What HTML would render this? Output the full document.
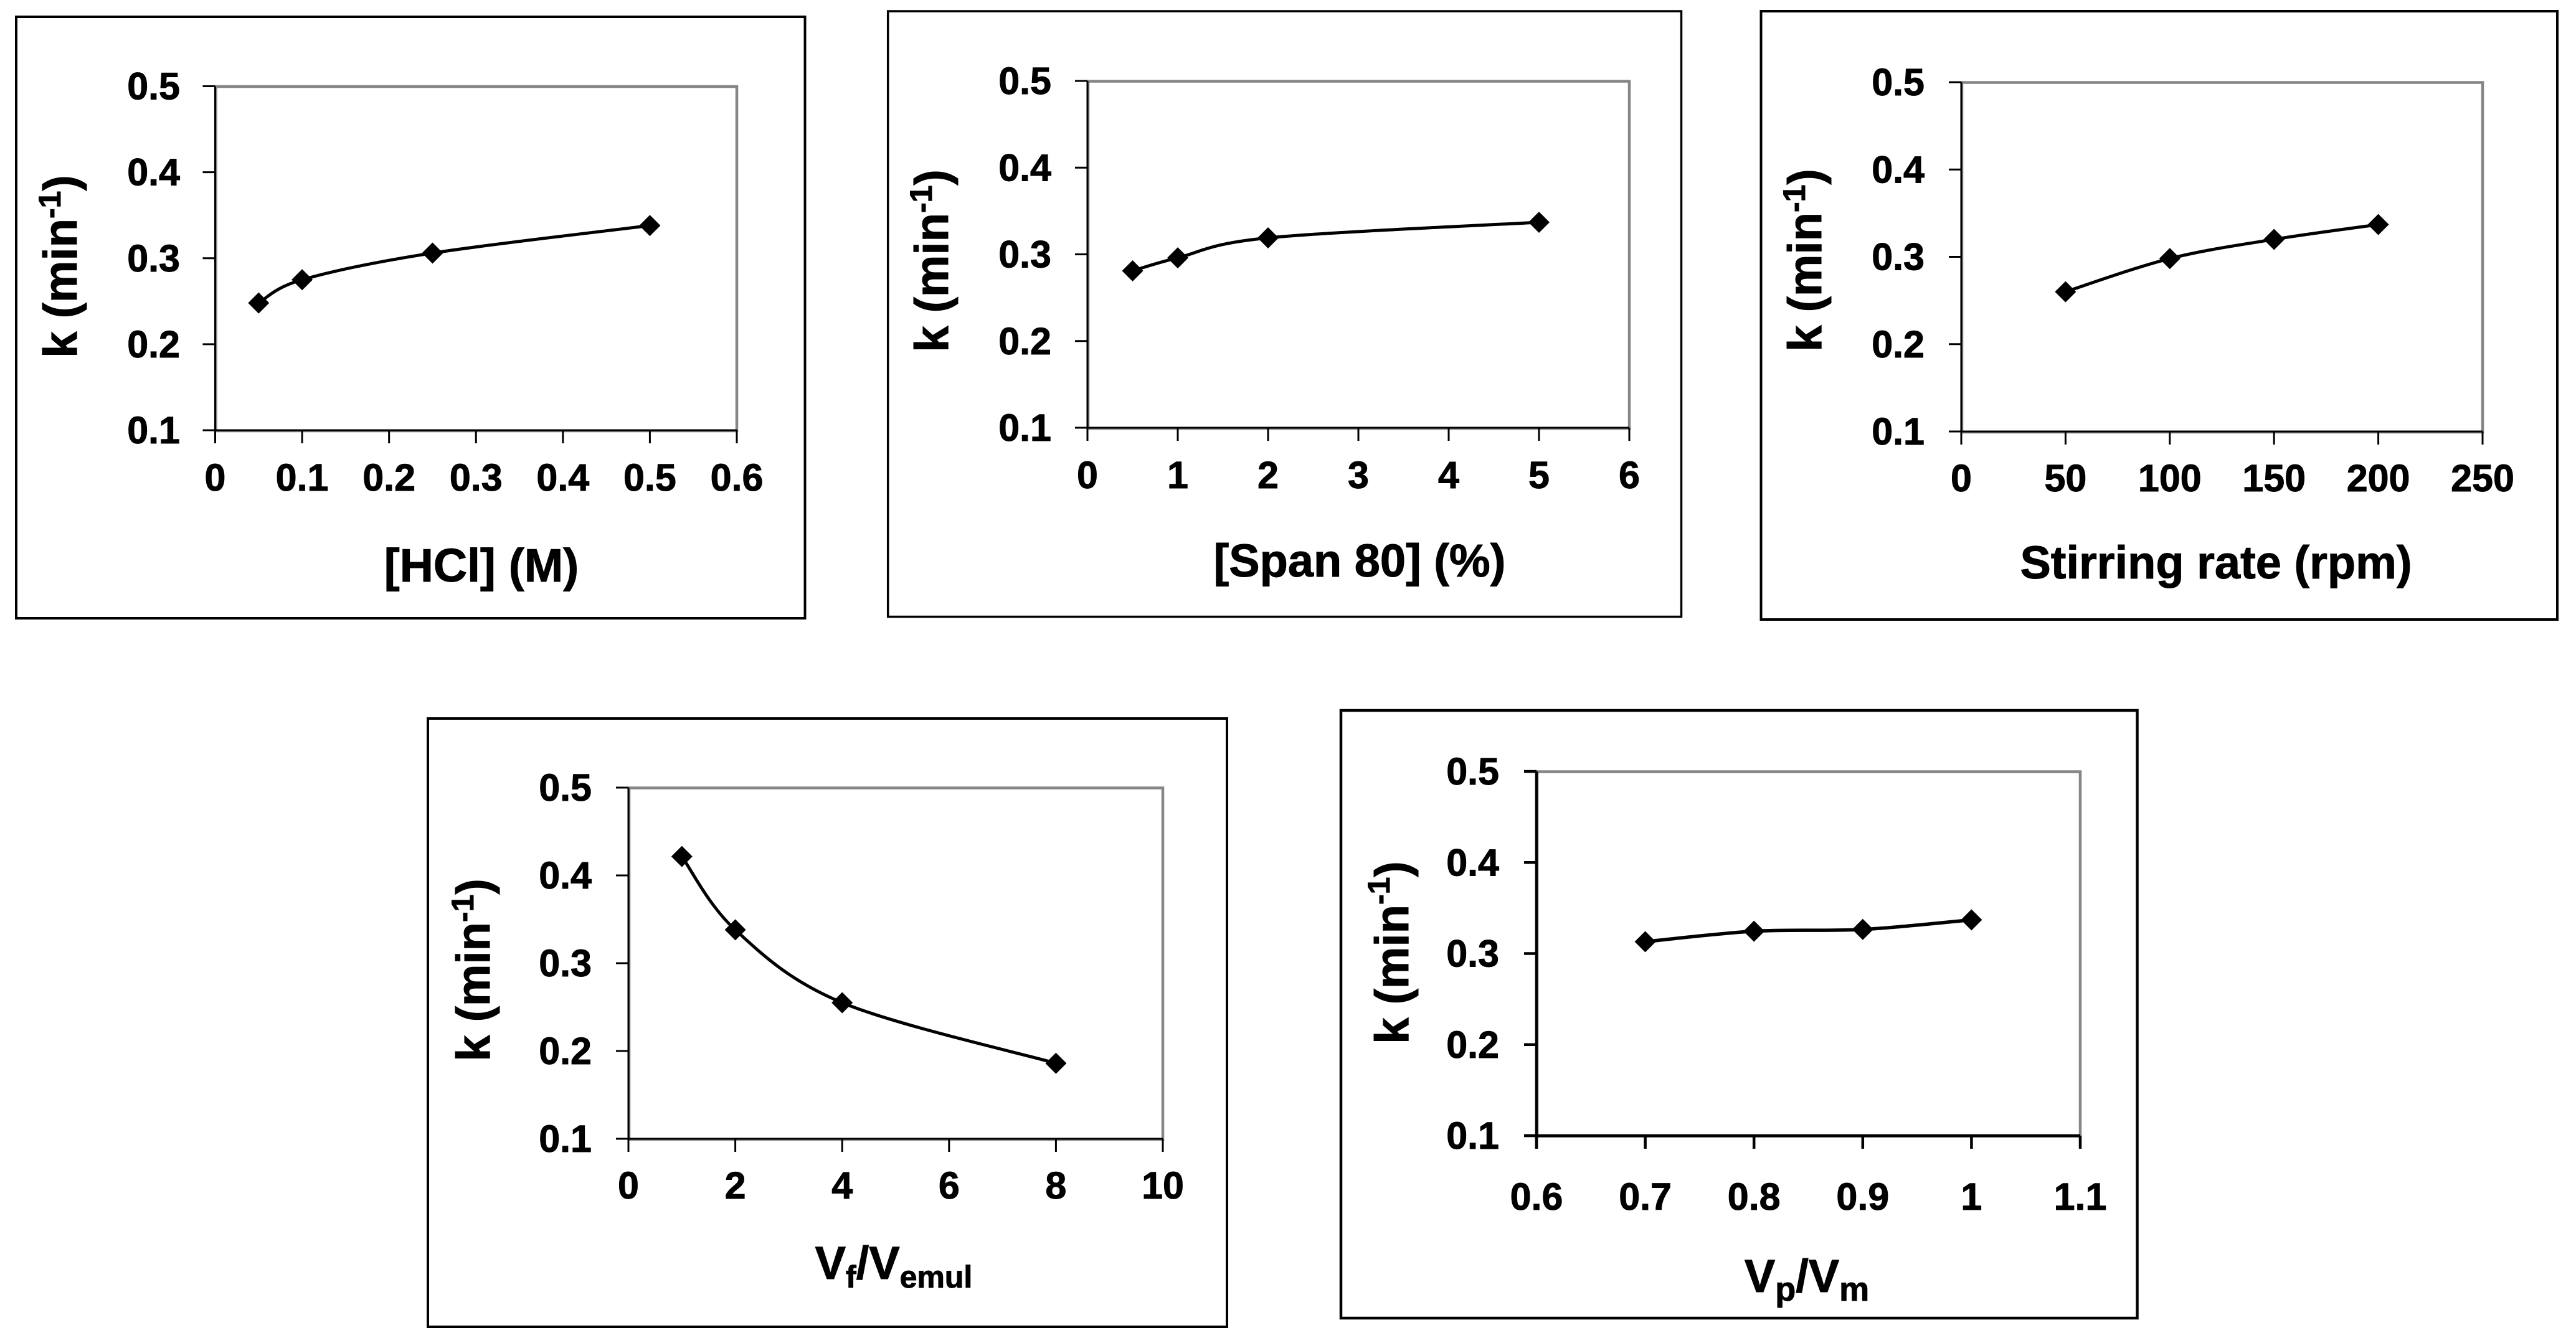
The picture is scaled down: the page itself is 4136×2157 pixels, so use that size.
<!DOCTYPE html>
<html lang="en">
<head>
<meta charset="utf-8">
<title>Rate constant k versus process variables</title>
<style>
  html, body { margin: 0; padding: 0; background: #ffffff; }
  svg { display: block; }
  text { font-family: "Liberation Sans", Arial, sans-serif; font-weight: 700; fill: #000; stroke: #000; stroke-width: 1; }
  .tick { font-size: 61px; }
  .title { font-size: 74px; }
  .ytitle { font-size: 76px; }
</style>
</head>
<body>
<svg id="figure" xmlns="http://www.w3.org/2000/svg" width="4136" height="2157" viewBox="0 0 4136 2157">
  <rect x="0" y="0" width="4136" height="2157" fill="#ffffff"/>

  <g id="panel-hcl">
    <rect x="26" y="27" width="1266.5" height="966" fill="#fff" stroke="#000" stroke-width="4"/>
    <text class="title" x="773" y="934" text-anchor="middle" style="font-size:75px">[HCl] (M)</text>
    <text class="ytitle" text-anchor="middle" transform="translate(123 428) rotate(-90)">k  (min<tspan font-size="50" dy="-26">-1</tspan><tspan dy="26">)</tspan></text>
  </g>

  <g id="panel-span">
    <rect x="1425.7" y="18" width="1273.8" height="972.5" fill="#fff" stroke="#000" stroke-width="3.5"/>
    <text class="title" x="2183" y="926" text-anchor="middle">[Span 80] (%)</text>
    <text class="ytitle" text-anchor="middle" transform="translate(1522 419) rotate(-90)">k (min<tspan font-size="50" dy="-26">-1</tspan><tspan dy="26">)</tspan></text>
  </g>

  <g id="panel-stir">
    <rect x="2827.5" y="18" width="1278.5" height="977" fill="#fff" stroke="#000" stroke-width="4"/>
    <text class="title" x="3558" y="929" text-anchor="middle">Stirring rate (rpm)</text>
    <text class="ytitle" text-anchor="middle" transform="translate(2924 418) rotate(-90)">k (min<tspan font-size="50" dy="-26">-1</tspan><tspan dy="26">)</tspan></text>
  </g>

  <g id="panel-vf">
    <rect x="687" y="1154" width="1283" height="977" fill="#fff" stroke="#000" stroke-width="4"/>
    <text class="title" x="1435" y="2054" text-anchor="middle">V<tspan font-size="50" dy="14">f</tspan><tspan dy="-14">/V</tspan><tspan font-size="50" dy="14">emul</tspan></text>
    <text class="ytitle" text-anchor="middle" transform="translate(786 1558) rotate(-90)">k  (min<tspan font-size="50" dy="-26">-1</tspan><tspan dy="26">)</tspan></text>
  </g>

  <g id="panel-vp">
    <rect x="2153" y="1141" width="1278.5" height="976" fill="#fff" stroke="#000" stroke-width="4.5"/>
    <text class="title" x="2901" y="2075" text-anchor="middle">V<tspan font-size="54" dy="14">p</tspan><tspan dy="-14">/V</tspan><tspan font-size="54" dy="14">m</tspan></text>
    <text class="ytitle" text-anchor="middle" transform="translate(2261 1530) rotate(-90)">k  (min<tspan font-size="50" dy="-30">-1</tspan><tspan dy="30">)</tspan></text>
  </g>
</svg>

<script>
// Shared y axis
const kTicks = [0.1, 0.2, 0.3, 0.4, 0.5];
const kTickLabels = ['0.1', '0.2', '0.3', '0.4', '0.5'];

// [HCl] panel
const hclValues = [0.05, 0.1, 0.25, 0.5];
const hclK = [0.248, 0.275, 0.306, 0.338];
const hclTicks = [0, 0.1, 0.2, 0.3, 0.4, 0.5, 0.6];
const hclTickLabels = ['0', '0.1', '0.2', '0.3', '0.4', '0.5', '0.6'];

// [Span 80] panel
const spanValues = [0.5, 1, 2, 5];
const spanK = [0.281, 0.296, 0.319, 0.337];
const spanTicks = [0, 1, 2, 3, 4, 5, 6];
const spanTickLabels = ['0', '1', '2', '3', '4', '5', '6'];

// Stirring rate panel
const stirValues = [50, 100, 150, 200];
const stirK = [0.26, 0.298, 0.32, 0.337];
const stirTicks = [0, 50, 100, 150, 200, 250];
const stirTickLabels = ['0', '50', '100', '150', '200', '250'];

// Vf/Vemul panel
const feedValues = [1, 2, 4, 8];
const feedK = [0.4215, 0.338, 0.255, 0.186];
const feedTicks = [0, 2, 4, 6, 8, 10];
const feedTickLabels = ['0', '2', '4', '6', '8', '10'];

// Vp/Vm panel
const phaseValues = [0.7, 0.8, 0.9, 1];
const phaseK = [0.313, 0.3245, 0.3265, 0.337];
const phaseTicks = [0.6, 0.7, 0.8, 0.9, 1, 1.1];
const phaseTickLabels = ['0.6', '0.7', '0.8', '0.9', '1', '1.1'];

const SVG_NS = 'http://www.w3.org/2000/svg';

function mk(tag, attrs, parent) {
  const el = document.createElementNS(SVG_NS, tag);
  Object.keys(attrs).forEach(function (k) { el.setAttribute(k, attrs[k]); });
  parent.appendChild(el);
  return el;
}

function smoothPath(pts) {
  let d = 'M' + pts[0].x + ' ' + pts[0].y;
  for (let i = 0; i < pts.length - 1; i++) {
    const p0 = pts[Math.max(i - 1, 0)];
    const p1 = pts[i];
    const p2 = pts[i + 1];
    const p3 = pts[Math.min(i + 2, pts.length - 1)];
    const c1x = p1.x + (p2.x - p0.x) / 6;
    const c1y = p1.y + (p2.y - p0.y) / 6;
    const c2x = p2.x - (p3.x - p1.x) / 6;
    const c2y = p2.y - (p3.y - p1.y) / 6;
    d += ' C' + c1x + ' ' + c1y + ' ' + c2x + ' ' + c2y + ' ' + p2.x + ' ' + p2.y;
  }
  return d;
}

function drawPanel(cfg) {
  const g = document.getElementById(cfg.id);
  const w = cfg.axisWidth;
  const xMin = cfg.xTicks[0];
  const xMax = cfg.xTicks[cfg.xTicks.length - 1];
  const yMin = kTicks[0];
  const yMax = kTicks[kTicks.length - 1];
  const xScale = function (v) { return cfg.left + (v - xMin) / (xMax - xMin) * (cfg.right - cfg.left); };
  const yScale = function (v) { return cfg.bottom - (v - yMin) / (yMax - yMin) * (cfg.bottom - cfg.top); };

  const frame = mk('rect', {
    x: cfg.left + 1,
    y: cfg.top + 0.5,
    width: cfg.right - cfg.left - 1,
    height: cfg.bottom - cfg.top + 0.5,
    fill: 'none', stroke: '#868686', 'stroke-width': 4.5
  }, g);
  
  

  const yAxis = mk('line', { x1: cfg.left, x2: cfg.left, y1: cfg.top, y2: cfg.bottom + 21, stroke: '#000', 'stroke-width': w }, g);
  
  

  const xAxis = mk('line', { x1: cfg.left - 20, x2: cfg.right, y1: cfg.bottom, y2: cfg.bottom, stroke: '#000', 'stroke-width': w }, g);
  
  

  kTicks.forEach(function (v, i) {
    const y = yScale(v);
    const tick = mk('line', { x1: cfg.left - 20, x2: cfg.left, y1: y, y2: y, stroke: '#000', 'stroke-width': w }, g);
    
    
    const label = mk('text', { class: 'tick', x: cfg.yLabelRight, y: y + 21, 'text-anchor': 'end' }, g);
    
    
    label.textContent = kTickLabels[i];
  });

  cfg.xTicks.forEach(function (v, i) {
    const x = xScale(v);
    const tick = mk('line', { x1: x, x2: x, y1: cfg.bottom, y2: cfg.bottom + 21, stroke: '#000', 'stroke-width': w }, g);
    
    
    const label = mk('text', { class: 'tick', x: x, y: cfg.xLabelBase, 'text-anchor': 'middle' }, g);
    
    
    label.textContent = cfg.xLabels[i];
  });

  const pts = cfg.xs.map(function (v, i) { return { x: xScale(v), y: yScale(cfg.ys[i]) }; });

  const line = mk('path', { d: smoothPath(pts), fill: 'none', stroke: '#000', 'stroke-width': cfg.lineWidth }, g);
  
  

  pts.forEach(function (p) {
    const r = 17;
    const marker = mk('polygon', {
      points: p.x + ',' + (p.y - r) + ' ' + (p.x + r) + ',' + p.y + ' ' + p.x + ',' + (p.y + r) + ' ' + (p.x - r) + ',' + p.y,
      fill: '#000'
    }, g);
    
    
  });
}

drawPanel({ id: 'panel-hcl', name: 'hcl', xs: hclValues, ys: hclK, xTicks: hclTicks, xLabels: hclTickLabels,
  left: 345.5, right: 1183, top: 138.5, bottom: 691, yLabelRight: 289, xLabelBase: 788, axisWidth: 3, lineWidth: 5 });
drawPanel({ id: 'panel-span', name: 'span', xs: spanValues, ys: spanK, xTicks: spanTicks, xLabels: spanTickLabels,
  left: 1746, right: 2616, top: 130, bottom: 687, yLabelRight: 1688, xLabelBase: 784, axisWidth: 3, lineWidth: 5 });
drawPanel({ id: 'panel-stir', name: 'stirring', xs: stirValues, ys: stirK, xTicks: stirTicks, xLabels: stirTickLabels,
  left: 3149, right: 3986, top: 132, bottom: 693, yLabelRight: 3090, xLabelBase: 789, axisWidth: 3, lineWidth: 5 });
drawPanel({ id: 'panel-vf', name: 'feed-ratio', xs: feedValues, ys: feedK, xTicks: feedTicks, xLabels: feedTickLabels,
  left: 1009, right: 1867, top: 1265, bottom: 1829, yLabelRight: 950, xLabelBase: 1925, axisWidth: 3, lineWidth: 5 });
drawPanel({ id: 'panel-vp', name: 'phase-ratio', xs: phaseValues, ys: phaseK, xTicks: phaseTicks, xLabels: phaseTickLabels,
  left: 2467, right: 3340, top: 1239, bottom: 1824, yLabelRight: 2407, xLabelBase: 1943, axisWidth: 4.5, lineWidth: 5.5 });
</script>
</body>
</html>
